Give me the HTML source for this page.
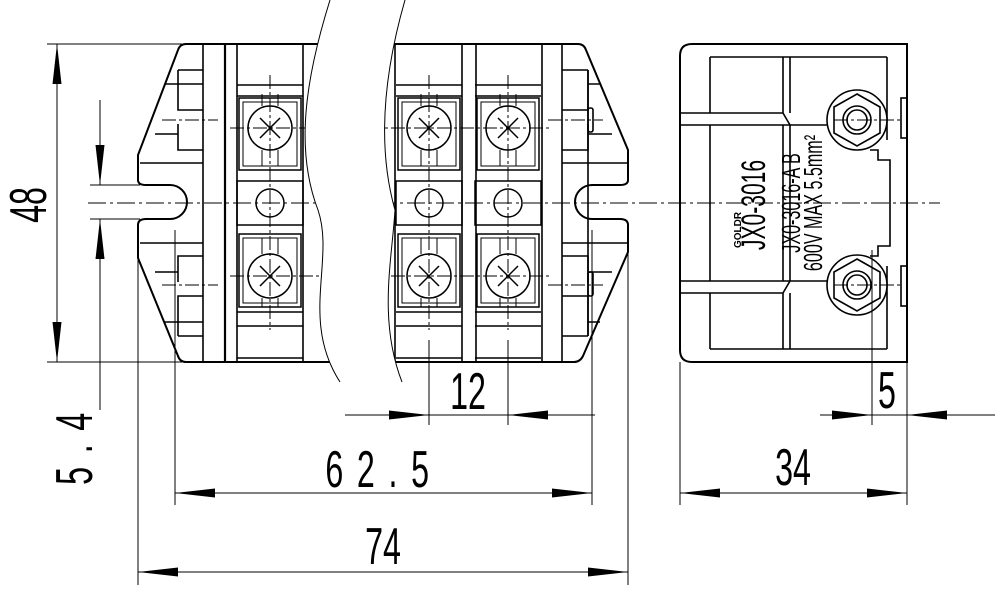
<!DOCTYPE html>
<html><head><meta charset="utf-8"><style>
html,body{margin:0;padding:0;background:#fff;}
svg{display:block}
text{font-family:"Liberation Sans","DejaVu Sans",sans-serif;fill:#000}
</style></head><body>
<svg width="998" height="603" viewBox="0 0 998 603" xmlns="http://www.w3.org/2000/svg">
<defs>
<marker id="a" viewBox="0 0 40 10" refX="40" refY="5" markerWidth="40" markerHeight="10" markerUnits="userSpaceOnUse" orient="auto-start-reverse"><path d="M0,0.5 L40,5 L0,9.5 Z" fill="#000"/></marker>
</defs>
<g fill="none" stroke="#000" stroke-width="1">
<line x1="88" y1="203" x2="940" y2="203" stroke-dasharray="18,4,3,4"/>
<path stroke-width="2" d="M186,44 L578,44 Q584,44 586,50 L628,150 L628,180 Q628,185 620,185 L592,185 A17,17 0 0 0 592,219 L620,219 Q628,219 628,225 L628,252 L583,356 Q580,362 574,362 L186,362 Q180,362 178,356 L138,258 L138,225 Q138,219 146,219 L170,219 A17,17 0 0 0 170,185 L146,185 Q138,185 138,180 L138,155 L178,50 Q180,44 186,44 Z"/>
<g stroke-width="1.6">
<line x1="203" y1="44" x2="203" y2="362"/>
<line x1="225" y1="44" x2="225" y2="362" stroke-width="2.2"/>
<line x1="237" y1="44" x2="237" y2="362"/>
<line x1="303" y1="44" x2="303" y2="362"/>
<line x1="395" y1="44" x2="395" y2="362"/>
<line x1="462" y1="44" x2="462" y2="362"/>
<line x1="476" y1="44" x2="476" y2="362"/>
<line x1="542" y1="44" x2="542" y2="362"/>
<line x1="562" y1="44" x2="562" y2="362"/>
<line x1="588" y1="70" x2="588" y2="336"/>
<line x1="140" y1="163" x2="203" y2="163"/>
<line x1="140" y1="243" x2="203" y2="243"/>
<line x1="562" y1="163" x2="628" y2="163"/>
<line x1="562" y1="243" x2="628" y2="243"/>
<path d="M178,70 H203 M178,70 V110 H203 M178,84 H203 M165,84 H178 M178,124 V150 H203 M155,134 H178"/>
<path d="M178,336 H203 M178,336 V296 H203 M178,322 H203 M165,322 H178 M178,282 V256 H203 M155,272 H178"/>
<path d="M588,70 H562 M588,70 V110 H562 M588,84 H600 M588,124 V150 H562 M588,134 H612"/>
<path d="M588,336 H562 M588,336 V296 H562 M588,322 H600 M588,282 V256 H562 M588,272 H612"/>
<rect x="588" y="108" width="5" height="24" rx="2"/>
<rect x="588" y="272" width="5" height="24" rx="2"/>
</g>
<g stroke-width="1.5" id="col">
<line x1="237" y1="85" x2="303" y2="85"/>
<line x1="237" y1="96" x2="303" y2="96"/>
<rect x="239" y="98" width="62" height="72"/>
<rect x="243" y="102" width="54" height="64" stroke-width="1"/>
<circle cx="270" cy="128" r="22"/>
<line x1="262" y1="94" x2="262" y2="106" stroke-width="1"/><line x1="278" y1="94" x2="278" y2="106" stroke-width="1"/>
<line x1="262" y1="150" x2="262" y2="166" stroke-width="1"/><line x1="278" y1="150" x2="278" y2="166" stroke-width="1"/>
<line x1="260" y1="118" x2="280" y2="138"/><line x1="280" y1="118" x2="260" y2="138"/>
<rect x="237" y="181" width="66" height="44"/>
<circle cx="270" cy="203" r="14"/>
<rect x="239" y="234" width="62" height="73"/>
<rect x="243" y="238" width="54" height="65" stroke-width="1"/>
<circle cx="270" cy="276" r="22"/>
<line x1="262" y1="238" x2="262" y2="254" stroke-width="1"/><line x1="278" y1="238" x2="278" y2="254" stroke-width="1"/>
<line x1="262" y1="298" x2="262" y2="307" stroke-width="1"/><line x1="278" y1="298" x2="278" y2="307" stroke-width="1"/>
<line x1="260" y1="266" x2="280" y2="286"/><line x1="280" y1="266" x2="260" y2="286"/>
<line x1="237" y1="312" x2="303" y2="312"/>
<line x1="237" y1="326" x2="303" y2="326"/>
<line x1="237" y1="358" x2="303" y2="358"/>
</g>
<use href="#col" transform="translate(159,0)"/>
<use href="#col" transform="translate(238,0)"/>
<g stroke-dasharray="14,3,3,3">
<line x1="270" y1="75" x2="270" y2="330"/><line x1="429" y1="75" x2="429" y2="330"/><line x1="508" y1="75" x2="508" y2="330"/>
<line x1="230" y1="128" x2="550" y2="128"/><line x1="230" y1="276" x2="550" y2="276"/>
<line x1="162" y1="120" x2="218" y2="120"/><line x1="162" y1="285" x2="218" y2="285"/>
<line x1="548" y1="120" x2="603" y2="120"/><line x1="548" y1="285" x2="603" y2="285"/>
</g>
<path fill="#fff" stroke="none" d="M330,0 C305,80 295,150 318,210 C335,260 300,320 340,382 L402,382 C378,320 392,260 395,210 C378,150 382,80 405,0 Z"/>
<path d="M330,0 C305,80 295,150 318,210 C335,260 300,320 340,382"/>
<path d="M405,0 C382,80 378,150 395,210 C392,260 378,320 402,382"/>
<!-- RIGHT VIEW -->
<path stroke-width="2" d="M692,44 H907 V362 H692 Q680,362 680,350 V56 Q680,44 692,44 Z"/>
<g stroke-width="1.6">
<path d="M710,57 H887 M710,57 V113 M783,57 V113 M790,57 V113 M680,113 H783 L790,125 M680,125 H886"/>
<path d="M710,349 H887 M710,349 V293 M783,349 V293 M790,349 V293 M680,293 H783 L790,281 M680,281 H886"/>
<line x1="710" y1="125" x2="710" y2="281"/>
<line x1="783" y1="125" x2="783" y2="281"/>
<line x1="790" y1="125" x2="790" y2="281"/>
<line x1="887" y1="57" x2="887" y2="100"/><line x1="887" y1="306" x2="887" y2="349"/>
<path d="M870,150 H878 V160 H890 V246 H878 V256 H870"/>
<path d="M887,100 V140 M887,266 V306"/>
<rect x="901" y="98" width="6" height="40"/>
<rect x="901" y="266" width="6" height="40"/>
<circle cx="857" cy="120" r="30" fill="#fff"/><circle cx="857" cy="285" r="30" fill="#fff"/>
<polygon points="857,94 880,107 880,133 857,146 834,133 834,107"/>
<polygon points="857,259 880,272 880,298 857,311 834,298 834,272"/>
<circle cx="857" cy="120" r="14"/><circle cx="857" cy="120" r="10"/>
<circle cx="857" cy="285" r="14"/><circle cx="857" cy="285" r="10"/>
</g>
<g stroke-dasharray="14,3,3,3"><line x1="834" y1="120" x2="900" y2="120"/><line x1="834" y1="285" x2="900" y2="285"/></g>
<!-- DIMENSIONS -->
<g stroke-width="1">
<line x1="47" y1="44" x2="182" y2="44"/><line x1="47" y1="362" x2="182" y2="362"/>
<line x1="57" y1="44" x2="57" y2="362" marker-start="url(#a)" marker-end="url(#a)"/>
<line x1="90" y1="185" x2="140" y2="185"/><line x1="90" y1="219" x2="140" y2="219"/>
<line x1="100" y1="100" x2="100" y2="185" marker-end="url(#a)"/>
<line x1="100" y1="219" x2="100" y2="410"/>
<line x1="100" y1="260" x2="100" y2="219" marker-end="url(#a)"/>
<line x1="429" y1="340" x2="429" y2="425"/><line x1="508" y1="340" x2="508" y2="425"/>
<line x1="345" y1="415" x2="429" y2="415" marker-end="url(#a)"/>
<line x1="595" y1="415" x2="508" y2="415" marker-end="url(#a)"/>
<line x1="429" y1="415" x2="508" y2="415"/>
<line x1="175" y1="230" x2="175" y2="505"/><line x1="592" y1="230" x2="592" y2="505"/>
<line x1="175" y1="493" x2="592" y2="493" marker-start="url(#a)" marker-end="url(#a)"/>
<line x1="138" y1="260" x2="138" y2="585"/><line x1="628" y1="250" x2="628" y2="585"/>
<line x1="138" y1="572" x2="628" y2="572" marker-start="url(#a)" marker-end="url(#a)"/>
<line x1="680" y1="362" x2="680" y2="505"/><line x1="907" y1="362" x2="907" y2="505"/>
<line x1="872" y1="250" x2="872" y2="425"/>
<line x1="680" y1="493" x2="907" y2="493" marker-start="url(#a)" marker-end="url(#a)"/>
<line x1="820" y1="415" x2="872" y2="415" marker-end="url(#a)"/>
<line x1="995" y1="415" x2="907" y2="415" marker-end="url(#a)"/>
<line x1="872" y1="415" x2="907" y2="415"/>
</g>
</g>
<g font-size="52">
<text transform="translate(46,205) rotate(-90) scale(0.62,1)" text-anchor="middle">48</text>
<text transform="translate(92,442) rotate(-90) scale(0.62,1)" text-anchor="middle" letter-spacing="22">5.4</text>
<text transform="translate(468,409) scale(0.62,1)" text-anchor="middle">12</text>
<text transform="translate(384,487) scale(0.62,1)" text-anchor="middle" letter-spacing="22">62.5</text>
<text transform="translate(383,564) scale(0.62,1)" text-anchor="middle">74</text>
<text transform="translate(793,485) scale(0.62,1)" text-anchor="middle">34</text>
<text transform="translate(887,408) scale(0.62,1)" text-anchor="middle">5</text>
</g>
<g style="font-family:'Liberation Serif',serif">
<text transform="translate(765,205) rotate(-90) scale(0.62,1)" text-anchor="middle" font-size="34">JX0-3016</text>
<text transform="translate(800,203) rotate(-90) scale(0.62,1)" text-anchor="middle" font-size="26">JX0-3016-A B</text>
<text transform="translate(822,203) rotate(-90) scale(0.62,1)" text-anchor="middle" font-size="26">600V MAX 5.5mm²</text>
<text transform="translate(741,248) rotate(-90)" font-size="10" font-weight="bold" style="font-family:'Liberation Sans',sans-serif">GOLDR</text>
</g>
</svg>
</body></html>
